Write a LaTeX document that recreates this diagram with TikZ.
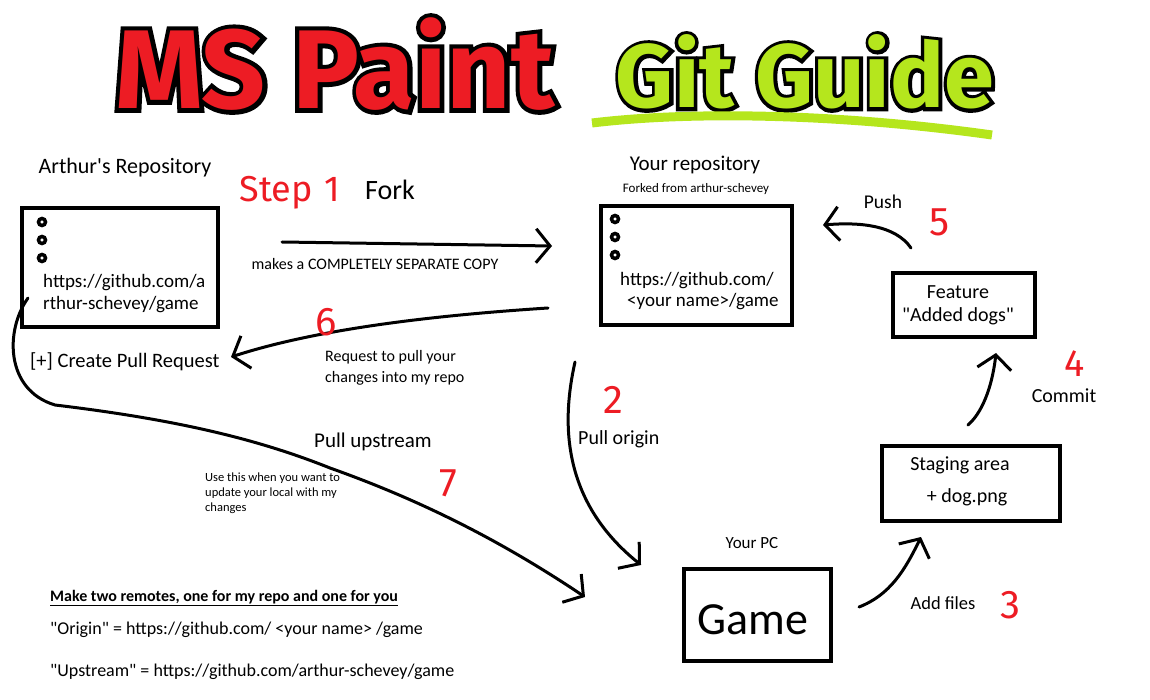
\documentclass[tikz,border=0pt]{standalone}
\usepackage{fontspec}
\setmainfont{Carlito}[Ligatures=TeXOff]
\newfontfamily\titlefont{Fira Sans}
\newfontfamily\titleedge{Fira Sans}[BoldFeatures={FakeBold=8}]
\newfontfamily\handfont{Fira Sans}
\usepackage{xcolor}
\definecolor{paintred}{HTML}{ED1C24}
\definecolor{paintlime}{HTML}{B5E61D}
\usetikzlibrary{arrows.meta,positioning}

\begin{document}
\begin{tikzpicture}[x=1pt, y=-1pt, >={Straight Barb[length=14pt,width=34pt]},
		box/.style={draw, line width=4pt, inner sep=0pt},
		lbl/.style={inner sep=0pt, font=\fontsize{#1}{#1}\selectfont},
		lbl/.default=20,
		num/.style={inner sep=0pt, text=paintred, font=\handfont\fontsize{40}{40}\selectfont},
		flow/.style={line width=3pt, ->, line cap=round}]
			\useasboundingbox (0,0) rectangle (1150,700);

			% title
			\node[inner sep=0pt, font=\titleedge\bfseries\fontsize{112}{112}\selectfont] (msedge) at (335,64) {MS Paint};
			\node[inner sep=0pt, text=paintred, font=\titlefont\bfseries\fontsize{112}{112}\selectfont] (mstitle) at (335,64) {MS Paint};
			\node[inner sep=0pt, font=\titleedge\bfseries\fontsize{90}{90}\selectfont] (gitedge) at (805,72) {Git Guide};
			\node[inner sep=0pt, text=paintlime, font=\titlefont\bfseries\fontsize{90}{90}\selectfont] (gittitle) at (805,72) {Git Guide};
			\draw[paintlime, line width=9pt] (592,123) .. controls (700,110) and (850,115) .. (992,135);

			% repositories
			\node[lbl=22] (arthurtitle) at (125,168) {Arthur's Repository};
			\node[box, minimum width=196, minimum height=119] (arthur) at (120,267.5) {};
			\node[lbl=21] (yourtitle) at (695,165) {Your repository};
			\node[lbl=13] (forkedfrom) at (696,189) {Forked from arthur-schevey};
			\node[box, minimum width=191, minimum height=119] (yours) at (696.5,265.5) {};
			\foreach \y in {222,240,258} {
				\draw[line width=3.5pt, fill=white] (42,\y) circle (3.5);
				\draw[line width=3.5pt, fill=white] (615,\y-3) circle (3.5);
			}
			\node[lbl=19, align=left, anchor=west, font=\fontsize{19}{22}\selectfont] (arthururl) at (43,294) {https://github.com/a\\rthur-schevey/game};
			\node[lbl=19, align=left, anchor=west, font=\fontsize{19}{21}\selectfont] (yoururl) at (620,291) {https://github.com/\\\hspace{7pt}<your name>/game};

			% step 1: fork
			\node[num, font=\handfont\fontsize{36}{36}\selectfont] (stepone) at (290,193) {Step\hspace{12pt}1};
			\node[lbl=28] (fork) at (390,190) {Fork};
			\coordinate (forkstart) at (282,242);
			\coordinate (forkend) at (552,246);
			\draw[flow] (forkstart) -- (forkend);
			\node[lbl=16] (forknote) at (375,264) {makes a COMPLETELY SEPARATE COPY};

			% step 6: pull request
			\coordinate (prstart) at (548,308);
			\coordinate (prend) at (231,357);
			\draw[flow] (prstart) .. controls (440,315) and (320,328) .. (prend);
			\node[num] (six) at (326,322) {6};
			\node[lbl=16, align=left, anchor=west, font=\fontsize{16}{21}\selectfont] (prnote) at (325,368) {Request to pull your\\changes into my repo};
			\node[lbl=20.5, anchor=west] (createpr) at (30,362) {[+] Create Pull Request};

			% step 7: pull upstream
			\coordinate (upstart) at (28,298);
			\coordinate (upend) at (585,597);
			\draw[flow] (upstart) .. controls (5,330) and (5,390) .. (55,405) .. controls (180,420) and (260,440) .. (330,468) .. controls (420,500) and (500,540) .. (upend);
			\node[lbl=21] (pullup) at (373,442) {Pull upstream};
			\node[num] (seven) at (448,483) {7};
			\node[lbl=12.5, align=left, anchor=west, font=\fontsize{12.5}{15}\selectfont] (usenote) at (205,493) {Use this when you want to\\update your local with my\\changes};

			% step 2: pull origin
			\coordinate (originstart) at (575,362);
			\coordinate (originend) at (641,565);
			\draw[flow] (originstart) .. controls (562,420) and (560,500) .. (originend);
			\node[num] (two) at (613,400) {2};
			\node[lbl=20, anchor=west] (pullorigin) at (578,439) {Pull origin};

			% local machine
			\node[lbl=17] (yourpc) at (752,543) {Your PC};
			\node[box, minimum width=147, minimum height=92] (game) at (757.5,615) {};
			\node[lbl=46] (gametext) at (753,620) {Game};

			% step 3: add files
			\node[box, minimum width=178, minimum height=75] (staging) at (971,483.5) {};
			\node[lbl=20] (stagingtext) at (960,465) {Staging area};
			\node[lbl=20] (dogpng) at (967,497) {+ dog.png};
			\coordinate (addstart) at (859,607);
			\coordinate (addend) at (921,537);
			\draw[flow] (addstart) .. controls (890,595) and (905,570) .. (addend);
			\node[lbl=18.5] (addfiles) at (943,603) {Add files};
			\node[num] (three) at (1010,605) {3};

			% step 4: commit
			\node[box, minimum width=142, minimum height=64] (feature) at (964,305) {};
			\node[lbl=20] (featuretext) at (958,292) {Feature};
			\node[lbl=20] (dogs) at (958,316) {"Added dogs"};
			\coordinate (commitstart) at (968,425);
			\coordinate (commitend) at (996,353);
			\draw[flow] (commitstart) .. controls (985,410) and (993,380) .. (commitend);
			\node[num, font=\handfont\fontsize{38}{38}\selectfont] (four) at (1075,364) {4};
			\node[lbl=20] (commit) at (1064,396) {Commit};

			% step 5: push
			\coordinate (pushstart) at (911,248);
			\coordinate (pushend) at (823,225);
			\draw[flow] (pushstart) .. controls (895,225) and (860,222) .. (pushend);
			\node[lbl=19.5] (push) at (883,202) {Push};
			\node[num] (five) at (940,222) {5};

			% remotes
			\node[lbl=16, anchor=west] (remotes) at (50,598) {\bfseries\underline{Make two remotes, one for my repo and one for you}};
			\node[lbl=18, anchor=west] (originurl) at (50,630) {"Origin" = https://github.com/ <your name> /game};
			\node[lbl=18, anchor=west] (upstreamurl) at (50,672) {"Upstream" = https://github.com/arthur-schevey/game};
		\end{tikzpicture}
\end{document}
